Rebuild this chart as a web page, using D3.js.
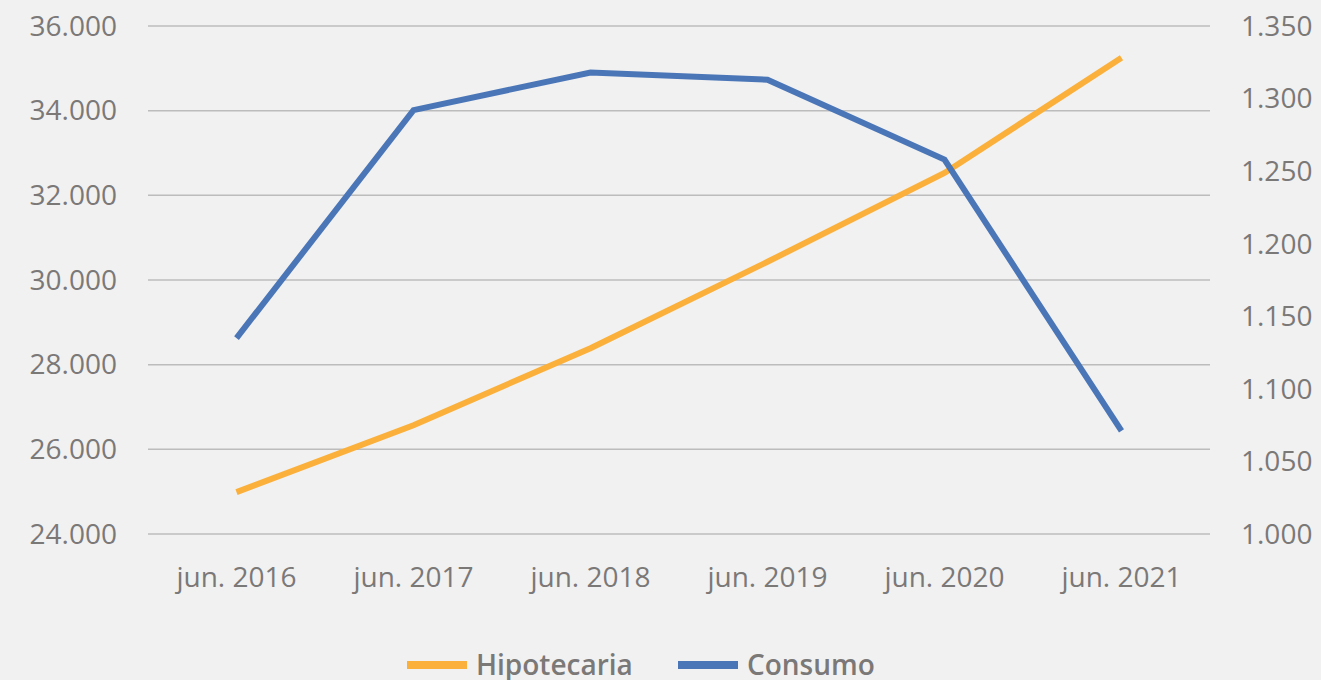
<!DOCTYPE html>
<html>
<head>
<meta charset="utf-8">
<script src="https://cdn.jsdelivr.net/npm/d3@7.9.0/dist/d3.min.js"></script>
<style>
  html, body { margin: 0; padding: 0; background: #f1f1f1; }
  svg { display: block; font-family: "Open Sans", sans-serif; }
</style>
</head>
<body>
<svg id="chart"></svg>
<script>
const categories = ["jun. 2016", "jun. 2017", "jun. 2018", "jun. 2019", "jun. 2020", "jun. 2021"];
const hipotecaria = [24990, 26570, 28390, 30430, 32530, 35250];
const consumo = [1.135, 1.292, 1.318, 1.313, 1.258, 1.071];
const leftTicks = [24000, 26000, 28000, 30000, 32000, 34000, 36000];
const rightTicks = [1.0, 1.05, 1.1, 1.15, 1.2, 1.25, 1.3, 1.35];

const W = 1321, H = 680;
const margin = { top: 26, right: 111, bottom: 146, left: 148 };
const width = W - margin.left - margin.right;
const height = H - margin.top - margin.bottom;

const svg = d3.select("#chart").attr("width", W).attr("height", H);
svg.append("rect").attr("width", W).attr("height", H).attr("fill", "#f1f1f1");

const g = svg.append("g").attr("transform", `translate(${margin.left},${margin.top})`);

const x = d3.scaleBand().domain(categories).range([0, width]);
const yL = d3.scaleLinear().domain([24000, 36000]).range([height, 0]);
const yR = d3.scaleLinear().domain([1.0, 1.35]).range([height, 0]);

const fmtL = (v) => d3.format(",")(v).replace(/,/g, ".");
const fmtR = (v) => d3.format(".3f")(v);

// gridlines
g.selectAll(".grid")
  .data(leftTicks)
  .join("line")
  .attr("x1", 0)
  .attr("x2", width)
  .attr("y1", (d) => yL(d))
  .attr("y2", (d) => yL(d))
  .attr("stroke", "#bcbcbc")
  .attr("stroke-width", 1.5);

const textColor = "#7b7878";

// left axis
g.selectAll(".ltick")
  .data(leftTicks)
  .join("text")
  .attr("x", -31)
  .attr("y", (d) => yL(d))
  .attr("dy", "0.35em")
  .attr("text-anchor", "end")
  .attr("fill", textColor)
  .style("font-size", "28px")
  .text(fmtL);

// right axis
g.selectAll(".rtick")
  .data(rightTicks)
  .join("text")
  .attr("x", width + 31)
  .attr("y", (d) => yR(d))
  .attr("dy", "0.35em")
  .attr("text-anchor", "start")
  .attr("fill", textColor)
  .style("font-size", "28px")
  .text(fmtR);

// x labels
g.selectAll(".xtick")
  .data(categories)
  .join("text")
  .attr("x", (d) => x(d) + x.bandwidth() / 2)
  .attr("y", height + 53)
  .attr("text-anchor", "middle")
  .attr("fill", textColor)
  .style("font-size", "28px")
  .text((d) => d);

const cx = (i) => x(categories[i]) + x.bandwidth() / 2;

g.append("path")
  .datum(hipotecaria)
  .attr("fill", "none")
  .attr("stroke", "#fbb03b")
  .attr("stroke-width", 6)
  .attr("d", d3.line().x((d, i) => cx(i)).y((d) => yL(d)));

g.append("path")
  .datum(consumo)
  .attr("fill", "none")
  .attr("stroke", "#4a76b8")
  .attr("stroke-width", 6)
  .attr("d", d3.line().x((d, i) => cx(i)).y((d) => yR(d)));

// legend
const legend = svg.append("g").attr("transform", "translate(0,665)");
const items = [
  { name: "Hipotecaria", color: "#fbb03b", x: 407 },
  { name: "Consumo", color: "#4a76b8", x: 678 },
];
items.forEach((it) => {
  legend.append("line")
    .attr("x1", it.x).attr("x2", it.x + 60)
    .attr("y1", 0).attr("y2", 0)
    .attr("stroke", it.color)
    .attr("stroke-width", 8);
  legend.append("text")
    .attr("x", it.x + 69)
    .attr("y", 0)
    .attr("dy", "0.36em")
    .attr("fill", textColor)
    .style("font-size", "28px")
    .style("font-weight", 600)
    .text(it.name);
});
</script>
</body>
</html>
